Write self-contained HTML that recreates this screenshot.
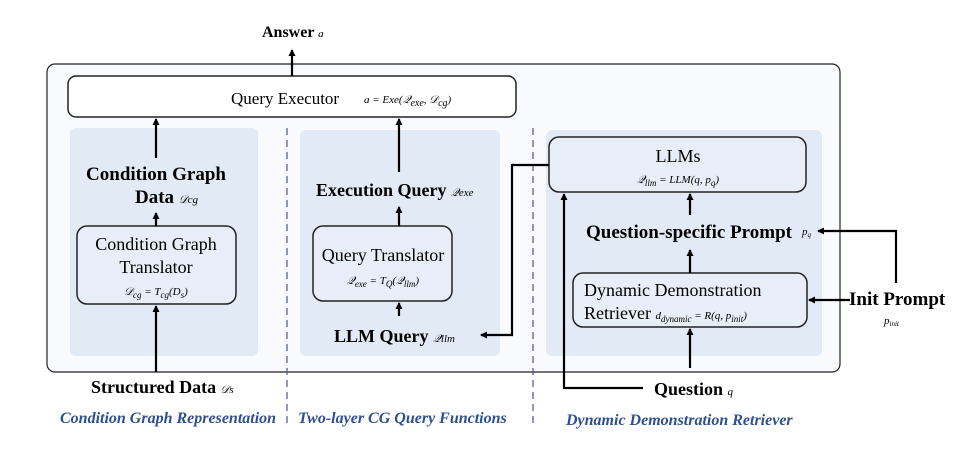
<!DOCTYPE html>
<html><head><meta charset="utf-8"><style>
body{margin:0;background:#fff}
svg text{font-family:"Liberation Serif",serif}
.b{font-weight:bold}
.m{font-style:italic;font-size:11px}
.cap{font-style:italic;font-weight:bold;fill:#2f4f8f;font-size:16px}
</style></head><body>
<svg width="964" height="454" viewBox="0 0 964 454" xmlns="http://www.w3.org/2000/svg">
<defs><marker id="a" markerWidth="8" markerHeight="8" refX="6" refY="4" orient="auto" markerUnits="userSpaceOnUse"><path d="M0,0.5 L7,4 L0,7.5z" fill="#000"/></marker></defs>
<rect x="47" y="64" width="793" height="308" rx="8" fill="#f8fafd" stroke="#222" stroke-width="1.2"/>
<rect x="70" y="128" width="188" height="228" rx="6" fill="#e2eaf5"/>
<rect x="300" y="130" width="200" height="226" rx="6" fill="#e2eaf5"/>
<rect x="546" y="130" width="276" height="226" rx="6" fill="#e2eaf5"/>
<line x1="287" y1="128" x2="287" y2="428" stroke="#5a5fa0" stroke-width="1.3" stroke-dasharray="7,5"/>
<line x1="533" y1="128" x2="533" y2="428" stroke="#5a5fa0" stroke-width="1.3" stroke-dasharray="7,5"/>
<rect x="68" y="76" width="448" height="41" rx="8" fill="#fff" stroke="#222" stroke-width="1.5"/>
<text x="231" y="104" font-size="17">Query Executor</text>
<text x="364" y="103" class="m" font-size="15">a = Exe(𝒬<tspan font-size="10" dy="3">exe</tspan><tspan dy="-3">, 𝒟</tspan><tspan font-size="10" dy="3">cg</tspan><tspan dy="-3">)</tspan></text>
<rect x="77" y="226" width="159" height="78" rx="10" fill="#e8eef7" stroke="#222" stroke-width="1.5"/>
<text x="156" y="250" font-size="18" text-anchor="middle">Condition Graph</text>
<text x="156" y="273" font-size="18" text-anchor="middle">Translator</text>
<text x="156" y="295" class="m" font-size="13" text-anchor="middle">𝒟<tspan font-size="9" dy="3">cg</tspan><tspan dy="-3"> = T</tspan><tspan font-size="9" dy="3">cg</tspan><tspan dy="-3">(D</tspan><tspan font-size="9" dy="3">s</tspan><tspan dy="-3">)</tspan></text>
<rect x="313" y="226" width="139" height="75" rx="10" fill="#e8eef7" stroke="#222" stroke-width="1.5"/>
<text x="383" y="261" font-size="18" text-anchor="middle">Query Translator</text>
<text x="383" y="284" class="m" font-size="13" text-anchor="middle">𝒬<tspan font-size="9" dy="3">exe</tspan><tspan dy="-3"> = T</tspan><tspan font-size="9" dy="3">Q</tspan><tspan dy="-3">(𝒬</tspan><tspan font-size="9" dy="3">llm</tspan><tspan dy="-3">)</tspan></text>
<rect x="549" y="137" width="257" height="55" rx="10" fill="#e8eef7" stroke="#222" stroke-width="1.5"/>
<text x="678" y="162" font-size="18" text-anchor="middle">LLMs</text>
<text x="678" y="183" class="m" font-size="13" text-anchor="middle">𝒬<tspan font-size="9" dy="3">llm</tspan><tspan dy="-3"> = LLM(q, p</tspan><tspan font-size="9" dy="3">q</tspan><tspan dy="-3">)</tspan></text>
<rect x="573" y="273" width="234" height="54" rx="10" fill="#e8eef7" stroke="#222" stroke-width="1.5"/>
<text x="584" y="296" font-size="18">Dynamic Demonstration</text>
<text x="584" y="319" font-size="18">Retriever <tspan class="m" font-size="13">d<tspan font-size="9" dy="3">dynamic</tspan><tspan dy="-3"> = R(q, p</tspan><tspan font-size="9" dy="3">init</tspan><tspan dy="-3">)</tspan></tspan></text>
<text x="262" y="37" font-size="16" class="b">Answer <tspan class="m" font-weight="normal">a</tspan></text>
<text x="156" y="180" font-size="19" class="b" text-anchor="middle">Condition Graph</text>
<text x="135" y="203" font-size="19" class="b">Data <tspan class="m" font-weight="normal" font-size="13">𝒟cg</tspan></text>
<text x="316" y="196" font-size="18" class="b">Execution Query <tspan class="m" font-weight="normal" font-size="13">𝒬exe</tspan></text>
<text x="334" y="342" font-size="18" class="b">LLM Query <tspan class="m" font-weight="normal" font-size="13">𝒬llm</tspan></text>
<text x="586" y="238" font-size="19" class="b">Question-specific Prompt</text>
<text x="802" y="235" class="m">p<tspan font-size="7" dy="2">q</tspan></text>
<text x="849" y="305" font-size="19" class="b">Init Prompt</text>
<text x="884" y="324" class="m">p<tspan font-size="7" dy="2">init</tspan></text>
<text x="91" y="393" font-size="18" class="b">Structured Data <tspan class="m" font-weight="normal" font-size="13">𝒟s</tspan></text>
<text x="654" y="395" font-size="18" class="b">Question <tspan class="m" font-weight="normal">q</tspan></text>
<text x="60" y="423" class="cap">Condition Graph Representation</text>
<text x="298" y="423" class="cap">Two-layer CG Query Functions</text>
<text x="566" y="425" class="cap">Dynamic Demonstration Retriever</text>
<g stroke="#000" stroke-width="2.2" fill="none">
<line x1="292" y1="76" x2="292" y2="50" marker-end="url(#a)"/>
<line x1="156" y1="158" x2="156" y2="119" marker-end="url(#a)"/>
<line x1="156" y1="226" x2="156" y2="213" marker-end="url(#a)"/>
<line x1="156" y1="372" x2="156" y2="306" marker-end="url(#a)"/>
<line x1="399" y1="172" x2="399" y2="119" marker-end="url(#a)"/>
<line x1="399" y1="226" x2="399" y2="207" marker-end="url(#a)"/>
<line x1="399" y1="316" x2="399" y2="303" marker-end="url(#a)"/>
<polyline points="549,165 512,165 512,335 481,335" marker-end="url(#a)"/>
<line x1="690" y1="215" x2="690" y2="194" marker-end="url(#a)"/>
<line x1="690" y1="273" x2="690" y2="250" marker-end="url(#a)"/>
<line x1="690" y1="368" x2="690" y2="329" marker-end="url(#a)"/>
<polyline points="643,388 564,388 564,194" marker-end="url(#a)"/>
<line x1="850" y1="300" x2="809" y2="300" marker-end="url(#a)"/>
<polyline points="896,283 896,231 818,231" marker-end="url(#a)"/>
</g>
</svg>
</body></html>
